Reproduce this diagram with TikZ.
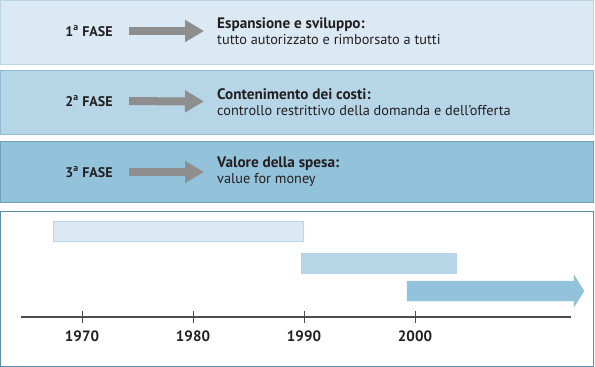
\documentclass[tikz,border=0pt]{standalone}
\usepackage{fontspec}
\setmainfont{PT Sans}
\usetikzlibrary{arrows.meta}

\definecolor{fillA}{HTML}{DAE9F3}
\definecolor{lineA}{HTML}{BCD6E6}
\definecolor{fillB}{HTML}{B6D6E8}
\definecolor{lineB}{HTML}{8FBBD3}
\definecolor{fillC}{HTML}{93C2DB}
\definecolor{lineC}{HTML}{6E9FB9}
\definecolor{frame}{HTML}{5B8FA8}
\definecolor{pointer}{HTML}{8E8E8E}
\definecolor{ink}{HTML}{231F20}

\newcommand{\head}[1]{{\fontsize{15.2}{16}\selectfont\bfseries #1}}

\begin{document}
\begin{tikzpicture}[x=1pt, y=-1pt, every node/.style={text=ink},
    phase/.style={font=\fontsize{14}{16}\selectfont\bfseries, inner sep=0, minimum width=50pt},
    desc/.style={font=\fontsize{14.3}{16}\selectfont, align=left, inner sep=0, anchor=west},
    pointer/.style={draw=pointer, line width=8pt, -{Triangle[length=19pt,width=21pt]}, shorten <=15pt, shorten >=13pt},
    year/.style={font=\fontsize{15}{16}\selectfont\bfseries, inner sep=0}]
    \useasboundingbox (0,0) rectangle (595,367);

    % the three phases
    \draw[fill=fillA, draw=lineA] (0.5,0.5) rectangle (593,64.5);
    \draw[fill=fillB, draw=lineB] (0.5,70.5) rectangle (593,134);
    \draw[fill=fillC, draw=lineC] (0.5,141) rectangle (593,202);

    \node[phase] (f1) at (89,31) {1\textsuperscript{a} FASE};
    \node[phase] (f2) at (89,101) {2\textsuperscript{a} FASE};
    \node[phase] (f3) at (89,172) {3\textsuperscript{a} FASE};

    \node[desc] (d1) at (217,31) {\head{Espansione e sviluppo:}\\tutto autorizzato e rimborsato a tutti};
    \node[desc] (d2) at (217,102) {\head{Contenimento dei costi:}\\controllo restrittivo della domanda e dell’offerta};
    \node[desc] (d3) at (217,172) {\head{Valore della spesa:}\\value for money};

    \draw[pointer] (f1) -- (d1);
    \draw[pointer] (f2) -- (d2);
    \draw[pointer] (f3) -- (d3);

    % timeline
    \draw[draw=frame, line width=1pt] (0.5,211) rectangle (593,366);
    \draw[fill=fillA, draw=lineA] (53,221) rectangle (303,241);
    \draw[fill=fillB, draw=fillB] (301,253) rectangle (456,273);
    \draw[fill=fillC, draw=fillC] (407,281) -- (574,281) -- (574,275) -- (584,291) -- (574,307) -- (574,301) -- (407,301) -- cycle;

    \coordinate (t0) at (21,317);
    \coordinate (t1) at (571,317);
    \draw[draw=black!70, line width=1.8pt] (t0) -- (t1);
    \foreach \yr/\xx in {1970/82, 1980/193, 1990/304, 2000/415} {
      \draw[black!70, line width=0.8pt] (\xx,311) -- (\xx,323);
      \node[year] (y\yr) at (\xx,336) {\yr};
    }
\end{tikzpicture}
\end{document}
